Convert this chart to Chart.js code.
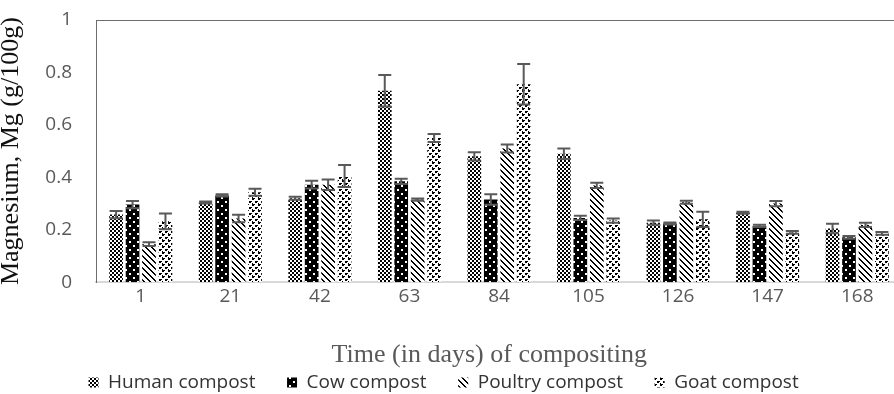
<!DOCTYPE html>
<html>
<head>
<meta charset="utf-8">
<script src="https://cdn.jsdelivr.net/npm/chart.js@4"></script>
<style>html,body{margin:0;background:#fff;overflow:hidden}</style>
</head>
<body>
<canvas id="chart" width="902" height="394"></canvas>
<script>
// days of composting
const days = ['1', '21', '42', '63', '84', '105', '126', '147', '168'];

// Mg (g/100g) and error bars
const human = [0.258, 0.304, 0.32, 0.73, 0.48, 0.49, 0.227, 0.265, 0.205];
const humanErr = [0.014, 0.004, 0.006, 0.06, 0.016, 0.02, 0.008, 0.004, 0.018];
const cow = [0.296, 0.331, 0.372, 0.385, 0.315, 0.245, 0.224, 0.215, 0.171];
const cowErr = [0.014, 0.004, 0.015, 0.01, 0.02, 0.008, 0.004, 0.004, 0.005];
const poultry = [0.145, 0.243, 0.372, 0.315, 0.51, 0.369, 0.305, 0.30, 0.219];
const poultryErr = [0.007, 0.014, 0.02, 0.004, 0.015, 0.01, 0.006, 0.01, 0.008];
const goat = [0.232, 0.343, 0.405, 0.55, 0.755, 0.235, 0.24, 0.19, 0.186];
const goatErr = [0.03, 0.013, 0.042, 0.015, 0.077, 0.008, 0.029, 0.005, 0.005];

const yTicks = [0, 0.2, 0.4, 0.6, 0.8, 1];

const ctx = document.getElementById('chart').getContext('2d');

// small tiles for the black/white fills
function makePattern(size, bg, fg, draw) {
  const c = document.createElement('canvas');
  c.width = c.height = size;
  const g = c.getContext('2d');
  g.fillStyle = bg;
  g.fillRect(0, 0, size, size);
  g.fillStyle = fg;
  draw(g);
  return ctx.createPattern(c, 'repeat');
}

const humanFill = makePattern(4, '#fff', '#000', g => {
  g.fillRect(0, 0, 2, 2);
  g.fillRect(2, 2, 2, 2);
});
const cowFill = makePattern(8, '#000', '#fff', g => {
  g.fillRect(1, 1, 2, 2);
  g.fillRect(5, 5, 2, 2);
});
const poultryFill = makePattern(6, '#fff', '#000', g => {
  for (let i = 0; i < 6; i++) {
    g.fillRect(i, i, 1, 1);
    g.fillRect((i + 1) % 6, i, 1, 1);
  }
});
const goatFill = makePattern(6, '#fff', '#000', g => {
  g.fillRect(0, 0, 2, 2);
  g.fillRect(3, 3, 2, 2);
  g.fillRect(2, 0, 1, 1);
  g.fillRect(5, 3, 1, 1);
  g.fillRect(0, 5, 1, 1);
});

const errorBars = {
  id: 'errorBars',
  afterDatasetsDraw(chart) {
    const c = chart.ctx;
    const y = chart.scales.y;
    c.save();
    c.strokeStyle = '#595959';
    c.lineWidth = 2;
    chart.data.datasets.forEach((ds, i) => {
      chart.getDatasetMeta(i).data.forEach((bar, j) => {
        const top = y.getPixelForValue(ds.data[j] + ds.errors[j]);
        const bot = y.getPixelForValue(ds.data[j] - ds.errors[j]);
        const half = 6.5;
        c.beginPath();
        c.moveTo(bar.x, top); c.lineTo(bar.x, bot);
        c.moveTo(bar.x - half, top); c.lineTo(bar.x + half, top);
        c.moveTo(bar.x - half, bot); c.lineTo(bar.x + half, bot);
        c.stroke();
      });
    });
    c.restore();
  }
};

// top edge of the plot box + a shorter legend box so it sits close under the axis title
const plotBorder = {
  id: 'plotBorder',
  beforeLayout(chart) {
    const lg = chart.legend;
    if (lg && !lg._short) {
      const fit = lg.fit.bind(lg);
      lg.fit = function () { fit(); this.height = 23; };
      lg._short = true;
    }
  },
  afterDraw(chart) {
    const {ctx: c, chartArea: a} = chart;
    c.save();
    c.strokeStyle = '#6d6d6d';
    c.lineWidth = 1;
    c.beginPath();
    c.moveTo(a.left, Math.round(a.top) + 0.5);
    c.lineTo(a.right, Math.round(a.top) + 0.5);
    c.stroke();
    c.restore();
  }
};

const gap = '\u00a0\u00a0\u00a0\u00a0\u00a0\u00a0';

new Chart(ctx, {
  type: 'bar',
  data: {
    labels: days,
    datasets: [
      { label: 'Human compost', data: human, errors: humanErr, backgroundColor: humanFill },
      { label: 'Cow compost', data: cow, errors: cowErr, backgroundColor: cowFill },
      { label: 'Poultry compost', data: poultry, errors: poultryErr, backgroundColor: poultryFill },
      { label: 'Goat compost', data: goat, errors: goatErr, backgroundColor: goatFill }
    ]
  },
  options: {
    responsive: false,
    animation: false,
    layout: { padding: { top: 20, right: 0, left: 0, bottom: 0 } },
    datasets: { bar: { categoryPercentage: 0.735, barPercentage: 0.83 } },
    plugins: {
      tooltip: { enabled: false },
      legend: {
        position: 'bottom',
        labels: {
          boxWidth: 10,
          boxHeight: 10,
          padding: 2,
          color: '#333',
          font: { family: 'Open Sans', size: 19 },
          generateLabels: chart => {
            const items = Chart.defaults.plugins.legend.labels.generateLabels(chart);
            return items.map((it, i) => ({ ...it, text: it.text + (i < items.length - 1 ? gap : '\u00a0\u00a0\u00a0') }));
          }
        }
      }
    },
    scales: {
      x: {
        grid: { display: false, drawTicks: false },
        border: { color: '#d9d9d9', width: 2 },
        ticks: { color: '#595959', padding: 3, font: { family: 'Open Sans', size: 19 } },
        title: {
          display: true,
          text: 'Time (in days) of compositing\u00a0\u00a0\u00a0',
          color: '#595959',
          font: { family: 'Liberation Serif', size: 26 },
          padding: { top: 28.8, bottom: 0 }
        }
      },
      y: {
        min: 0,
        max: 1,
        afterFit: s => { s.width = 96; s.paddingTop = 0; s.paddingBottom = 0; },
        afterBuildTicks: s => { s.ticks = yTicks.map(v => ({ value: v })); },
        grid: { display: false, drawTicks: false },
        border: { color: '#6d6d6d', width: 1 },
        ticks: {
          color: '#595959',
          padding: 24,
          font: { family: 'Open Sans', size: 19 },
          callback: v => String(v)
        },
        title: {
          display: true,
          text: 'Magnesium, Mg (g/100g)',
          color: '#111',
          font: { family: 'Liberation Serif', size: 26 },
          padding: { top: -4, bottom: 0 }
        }
      }
    }
  },
  plugins: [errorBars, plotBorder]
});
</script>
</body>
</html>
